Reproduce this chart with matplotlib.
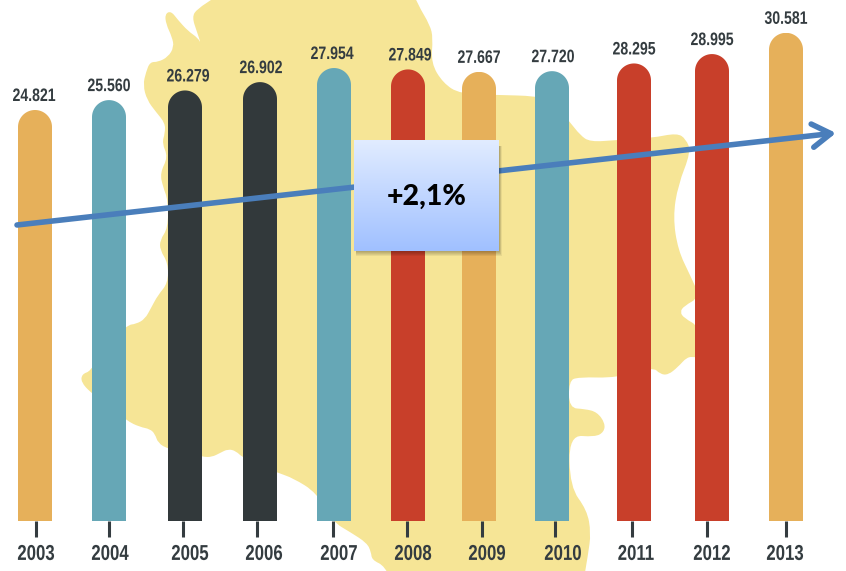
import numpy as np
import matplotlib
matplotlib.use('Agg')
import matplotlib.pyplot as plt
from matplotlib.path import Path
from matplotlib.patches import PathPatch
from matplotlib.patheffects import AbstractPathEffect
from matplotlib.transforms import ScaledTranslation, Affine2D

years = ['2003','2004','2005','2006','2007','2008','2009','2010','2011','2012','2013']
values = [24821,25560,26279,26902,27954,27849,27667,27720,28295,28995,30581]
value_labels = ['24.821','25.560','26.279','26.902','27.954','27.849','27.667','27.720','28.295','28.995','30.581']

ORANGE='#E6B05A'; TEAL='#66A7B6'; DARK='#32393B'; RED='#C83F2A'; INK='#343C40'
colors=[ORANGE,TEAL,DARK,DARK,TEAL,RED,ORANGE,TEAL,RED,RED,ORANGE]
bar_x=[35,109,185,260,334,408,479,552,634,712,786]
tick_x=[36,109,183,257,333,407,482,555,632,707,786]
ylabel_x=[36,110,190,264,339,413,487,563,636,712,785]
vlabel_x=[34,109,188,261,332,410,479,553,634,712,786]
BAR_W=34
BASE=-5851; TOP=33030

class Condense(AbstractPathEffect):
    """Narrow the glyph outlines about the text centre (no condensed display face is installed)."""
    def __init__(self,sx): super().__init__(); self.sx=sx
    def draw_path(self,renderer,gc,tpath,affine,rgbFace=None):
        bb=tpath.get_extents(affine); c=(bb.x0+bb.x1)/2
        renderer.draw_path(gc,tpath,affine+Affine2D().translate(-c,0).scale(self.sx,1).translate(c,0),rgbFace)

W,H=846,571
fig=plt.figure(figsize=(W/100,H/100),dpi=100,facecolor='white')

# background silhouette, in image pixels
bg=fig.add_axes([0,0,1,1]); bg.set_xlim(0,W); bg.set_ylim(H,0); bg.axis('off')
outline=[(240,-25),(216,-3),(197,9),(192,17),(197,32),(201,44),(198,38),(188,31),(178,20),(171,11),(165,14),(166,24),(172,37),(174,47),(168,57),(158,62),(150,62),
(146,72),(143,85),(147,100),(156,112),(165,123),(165,133),(162,143),(168,157),(160,173),(163,187),(168,200),(168,228),(160,240),(160,250),(168,263),(168,283),(158,295),(151,308),(145,319),(136,324),(127,325),
(100,352),(91,371),(82,374),(81,382),(91,393),(127,421),(140,427),(150,429),(155,434),(158,443),(168,449),(203,457),(212,457),(220,453),(228,449),(236,451),(243,458),(278,473),(293,478),
(317,493),(333,522),(350,532),(367,543),(371,552),(372,560),(385,566),(395,590),(582,590),(588,555),(591,533),(587,510),(570,487),(569,435),(595,437),(604,432),(605,423),(597,412),(585,409),
(569,408),(569,381),(578,377),(617,378),(653,367),(660,374),(668,375),(678,367),(687,357),(695,357),(700,358),(700,327),(684,318),(680,312),(684,306),(700,297),(690,275),(678,250),
(673,217),(678,185),(691,152),(686,139),(677,133),(652,138),(617,140),(590,142),(580,135),(570,122),(550,100),(535,96),(500,95),(460,94),(443,83),(431,63),(433,38),(430,25),(418,5),(405,-25)]
p=np.array(outline,float)
mid=(p+np.roll(p,-1,axis=0))/2
verts=[tuple(mid[-1])]; codes=[Path.MOVETO]
for ctrl,end in zip(p,mid):
    verts+= [tuple(ctrl),tuple(end)]; codes+=[Path.CURVE3,Path.CURVE3]
bg.add_patch(PathPatch(Path(verts,codes),fc='#F6E596',ec='none'))

# bars
ax=fig.add_axes([0,(H-521)/H,1,521/H]); ax.patch.set_alpha(0)
for s in ax.spines.values(): s.set_visible(False)
ax.yaxis.set_visible(False)
heights=[v-BASE for v in values]
bars=ax.bar(bar_x,heights,width=BAR_W,bottom=BASE,color=colors,zorder=2)
ax.set_xlim(0,W); ax.set_ylim(BASE,TOP)
ry=(BAR_W/2)*(TOP-BASE)/521
for b,v,x in zip(bars,values,bar_x):
    t=np.linspace(0,np.pi,40)
    arc=np.c_[x+BAR_W/2*np.cos(t), v-ry+ry*np.sin(t)]
    vs=np.vstack([[x+BAR_W/2,BASE],arc,[x-BAR_W/2,BASE],[x+BAR_W/2,BASE]])
    b.set_clip_path(Path(vs),ax.transData)
ax.set_xticks(tick_x); ax.set_xticklabels(years,family='Liberation Sans',fontweight='bold',fontsize=15.5,color=INK)
ax.tick_params(axis='x',length=11.5,width=2.2,color=INK,pad=5)
for lab,tx,lx in zip(ax.get_xticklabels(),tick_x,ylabel_x):
    lab.set_transform(lab.get_transform()+ScaledTranslation((lx-tx)/100,0,fig.dpi_scale_trans))
    lab.set_path_effects([Condense(0.78)])
for x,v,l,vx in zip(bar_x,values,value_labels,vlabel_x):
    ax.annotate(l,(x,v),xytext=(vx-x,5),textcoords='offset pixels',ha='center',va='bottom',
                family='Liberation Sans',fontweight='bold',fontsize=13,color=INK,path_effects=[Condense(0.78)])

# overlay: arrow and box
fg=fig.add_axes([0,0,1,1]); fg.set_xlim(0,W); fg.set_ylim(H,0); fg.axis('off'); fg.patch.set_alpha(0)
fg.annotate('',xy=(836,133),xytext=(17,225),
    arrowprops=dict(arrowstyle='->,head_length=0.95,head_width=0.6',color='#4A7EBB',lw=4.0,shrinkA=0,shrinkB=0,mutation_scale=14),zorder=3)
for i in range(6):
    fg.add_patch(plt.Rectangle((356,146),143+i*0.6,105+i,fc='#000000',alpha=0.06,ec='none',zorder=4))
grad=np.linspace(0,1,256)[:,None,None]
c0=np.array([0xE1,0xEC,0xFF])/255; c1=np.array([0xA0,0xC0,0xFF])/255
img=c0[None,None,:]*(1-grad)+c1[None,None,:]*grad
fg.imshow(img,extent=(354,499,251,140),aspect='auto',zorder=5)
fg.set_xlim(0,W); fg.set_ylim(H,0)
fg.text(426.5,197,'+2,1%',ha='center',va='center',family='Lato',fontweight='black',fontsize=20.5,color='black',zorder=6)
fig.savefig('out.png',dpi=100)
